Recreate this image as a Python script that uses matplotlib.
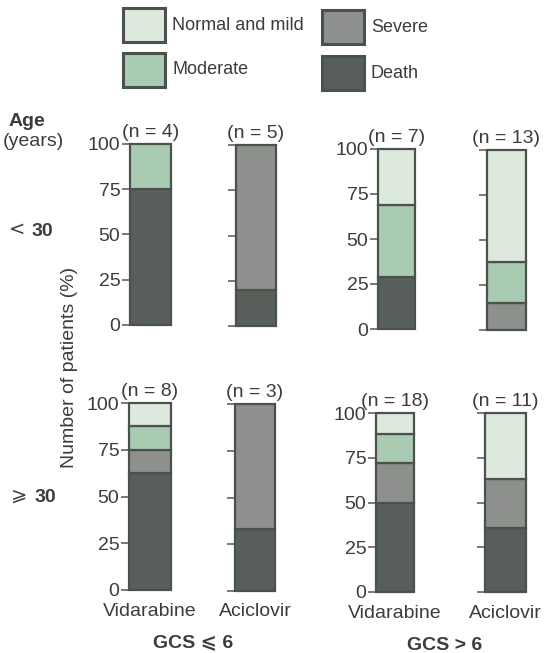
import matplotlib
matplotlib.use("Agg")
import matplotlib.pyplot as plt
from matplotlib.patches import Rectangle

plt.rcParams['font.family'] = ['Liberation Sans', 'DejaVu Sans']

# ---- data ----
categories = ["Normal and mild", "Moderate", "Severe", "Death"]
drugs = ["Vidarabine", "Aciclovir"]
age_groups = ["< 30", "⩾ 30"]
gcs_groups = ["GCS ⩽ 6", "GCS > 6"]
# order of bars: (age<30: GCS<=6 V, A, GCS>6 V, A), (age>=30: same)
n_patients = [4, 5, 7, 13, 8, 3, 18, 11]
death = [75, 20, 29, 0, 62.5, 33, 50, 36]
severe = [0, 80, 0, 15, 12.5, 67, 22, 27]
moderate = [25, 0, 40, 23, 12.5, 0, 16, 0]
normal = [0, 0, 31, 62, 12.5, 0, 12, 37]
yticks = [0, 25, 50, 75, 100]

# ---- style ----
colors = {"Normal and mild": "#dce9dc", "Moderate": "#a9cbb2",
          "Severe": "#8d908c", "Death": "#585e59"}
edge = "#4b514c"
txt = "#3c3c3c"
FS = 14

W, H = 544, 653
fig = plt.figure(figsize=(W / 100, H / 100), dpi=100)
fig.patch.set_facecolor("white")

# bar axes pixel boxes: (x0, y_top, x1, y_bottom)
boxes = [(130, 144, 171, 325), (236, 145, 276, 326),
         (378, 149, 415, 329), (487, 150, 526, 330),
         (129, 403, 171, 590), (235, 404, 275, 591),
         (376, 413, 414, 592), (485, 413, 526, 592)]

for i, (x0, yt, x1, yb) in enumerate(boxes):
    ax = fig.add_axes([x0 / W, 1 - yb / H, (x1 - x0) / W, (yb - yt) / H])
    ax.set_xlim(0, 1)
    ax.set_ylim(0, 100)
    bottom = 0
    for cat, vals in (("Death", death), ("Severe", severe),
                      ("Moderate", moderate), ("Normal and mild", normal)):
        v = vals[i]
        if v > 0:
            ax.bar(0, v, bottom=bottom, width=1, align="edge",
                   color=colors[cat], edgecolor=edge, linewidth=1.6,
                   clip_on=False, zorder=2)
        bottom += v
    for s in ax.spines.values():
        s.set_visible(False)
    ax.set_xticks([])
    ax.set_yticks(yticks)
    ax.tick_params(axis="y", direction="out", length=6, width=1.1,
                   color="#555555", labelsize=FS, labelcolor=txt, pad=1)
    if i % 2 == 1:
        ax.set_yticklabels([])
    ax.patch.set_alpha(0)
    ax.annotate(f"(n = {n_patients[i]})", xy=(0.5, 1.0), xycoords="axes fraction",
                xytext=(0, 2), textcoords="offset points", ha="center", va="bottom",
                fontsize=FS, color=txt)
    if i >= 4:
        ax.annotate(drugs[i % 2], xy=(0.5, 0.0), xycoords="axes fraction",
                    xytext=(0, -9), textcoords="offset points", ha="center", va="top",
                    fontsize=FS, color=txt)

def ftext(x, y, s, **kw):
    fig.text(x / W, 1 - y / H, s, color=txt, **kw)

# left annotations
ftext(9, 122, "Age", fontsize=FS, fontweight="bold", va="center", ha="left")
ftext(3, 142, "(years)", fontsize=FS, va="center", ha="left")
ftext(9, 229, age_groups[0].split()[0], fontsize=FS, va="center", ha="left",
      family=['DejaVu Sans'])
ftext(32, 232, age_groups[0].split()[1], fontsize=FS, fontweight="bold", va="center", ha="left")
ftext(11, 495, age_groups[1].split()[0], fontsize=FS, va="center", ha="left",
      family=['DejaVu Sans'])
ftext(35, 498, age_groups[1].split()[1], fontsize=FS, fontweight="bold", va="center", ha="left")
ftext(70, 367, "Number of patients (%)", fontsize=FS, rotation=90, va="center", ha="center")

# group labels
ftext(193, 643, gcs_groups[0], fontsize=FS, fontweight="bold", va="center", ha="center")
ftext(445, 645, gcs_groups[1], fontsize=FS, fontweight="bold", va="center", ha="center")

# legend
leg_pos = {"Normal and mild": (123, 8), "Moderate": (123, 53),
           "Severe": (322, 10), "Death": (322, 56)}
for cat in categories:
    x, y = leg_pos[cat]
    fig.patches.append(Rectangle((x / W, 1 - (y + 34) / H), 42 / W, 34 / H,
                                 transform=fig.transFigure, facecolor=colors[cat],
                                 edgecolor=edge, linewidth=2.2))
    ftext(x + 49, y + 17, cat, fontsize=13, va="center", ha="left")

fig.savefig("out.png", dpi=100, facecolor="white")
